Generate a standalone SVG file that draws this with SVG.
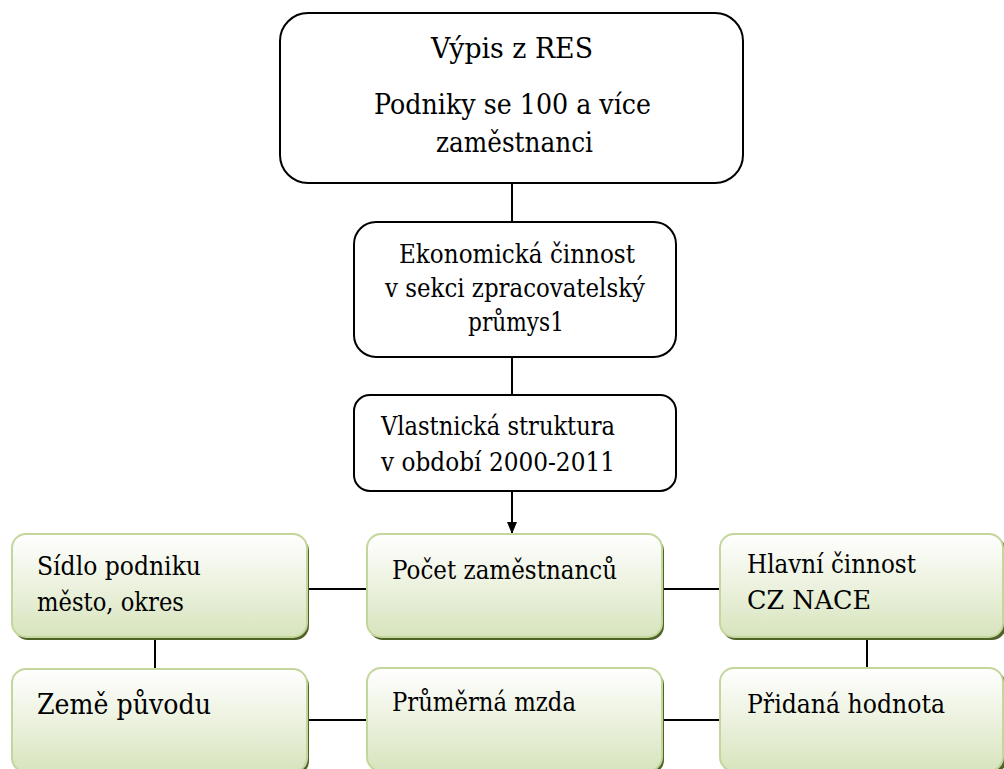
<svg xmlns="http://www.w3.org/2000/svg" width="1004" height="769" viewBox="0 0 1004 769">
  <defs>
    <linearGradient id="g" x1="0" y1="0" x2="0" y2="1">
      <stop offset="0" stop-color="#ffffff"/>
      <stop offset="0.45" stop-color="#eef3e2"/>
      <stop offset="1" stop-color="#d7e4bd"/>
    </linearGradient>
    <marker id="arr" markerWidth="10" markerHeight="12" refX="12" refY="5" orient="auto" markerUnits="userSpaceOnUse">
      <path d="M0,0 L12,5 L0,10 Z" fill="#000"/>
    </marker>
  </defs>
  <style>
    .box { fill: #ffffff; stroke: #000000; stroke-width: 2; }
    .gbox { fill: url(#g); stroke: #c3d69b; stroke-width: 2; }
    .shadow { fill: #4f6228; }
    text { font-family: "DejaVu Serif", "Liberation Serif", serif; font-size: 26px; fill: #000000; }
    .big { font-size: 27px; }
    .conn line { stroke: #000000; stroke-width: 2; }
  </style>
  <rect width="1004" height="769" fill="#ffffff"/>

  <g class="conn">
    <line x1="512" y1="183" x2="512" y2="222"/>
    <line x1="512" y1="357" x2="512" y2="395"/>
    <line x1="512" y1="491" x2="512" y2="534" marker-end="url(#arr)"/>
    <line x1="308" y1="589" x2="367" y2="589"/>
    <line x1="662" y1="589" x2="720" y2="589"/>
    <line x1="155" y1="637" x2="155" y2="669"/>
    <line x1="867" y1="637" x2="867" y2="668"/>
    <line x1="308" y1="720" x2="367" y2="720"/>
    <line x1="662" y1="720" x2="720" y2="720"/>
  </g>

  <g id="n-vypis">
    <rect class="box" x="280" y="13" width="463" height="170" rx="28"/>
    <text class="big" x="431" y="58" textLength="162" lengthAdjust="spacingAndGlyphs">Výpis z RES</text>
    <text class="big" x="374" y="114" textLength="277" lengthAdjust="spacingAndGlyphs">Podniky se 100 a více</text>
    <text class="big" x="436" y="152" textLength="157" lengthAdjust="spacingAndGlyphs">zaměstnanci</text>
  </g>

  <g id="n-ekonomicka">
    <rect class="box" x="354" y="222" width="322" height="135" rx="22"/>
    <text x="399" y="263" textLength="236" lengthAdjust="spacingAndGlyphs">Ekonomická činnost</text>
    <text x="385" y="297" textLength="260" lengthAdjust="spacingAndGlyphs">v sekci zpracovatelský</text>
    <text x="468" y="331" textLength="96" lengthAdjust="spacingAndGlyphs">průmys1</text>
  </g>

  <g id="n-vlastnicka">
    <rect class="box" x="354" y="395" width="322" height="96" rx="16"/>
    <text x="381" y="435" textLength="234" lengthAdjust="spacingAndGlyphs">Vlastnická struktura</text>
    <text x="381" y="471" textLength="234" lengthAdjust="spacingAndGlyphs">v období 2000-2011</text>
  </g>

  <g id="n-sidlo">
    <rect class="shadow" x="14" y="537" width="295" height="103" rx="14"/>
    <rect class="gbox" x="12" y="534" width="295" height="103" rx="14"/>
    <text x="37" y="575" textLength="164" lengthAdjust="spacingAndGlyphs">Sídlo podniku</text>
    <text x="37" y="611" textLength="147" lengthAdjust="spacingAndGlyphs">město, okres</text>
  </g>

  <g id="n-pocet">
    <rect class="shadow" x="369" y="537" width="295" height="103" rx="14"/>
    <rect class="gbox" x="367" y="534" width="295" height="103" rx="14"/>
    <text x="392" y="579" textLength="225" lengthAdjust="spacingAndGlyphs">Počet zaměstnanců</text>
  </g>

  <g id="n-hlavni">
    <rect class="shadow" x="722" y="537" width="284" height="103" rx="14"/>
    <rect class="gbox" x="720" y="534" width="283" height="103" rx="14"/>
    <text x="747" y="573" textLength="169" lengthAdjust="spacingAndGlyphs">Hlavní činnost</text>
    <text x="747" y="609" textLength="124" lengthAdjust="spacingAndGlyphs">CZ NACE</text>
  </g>

  <g id="n-zeme">
    <rect class="shadow" x="14" y="672" width="295" height="103" rx="14"/>
    <rect class="gbox" x="12" y="669" width="295" height="103" rx="14"/>
    <text class="big" x="37" y="714" textLength="174" lengthAdjust="spacingAndGlyphs">Země původu</text>
  </g>

  <g id="n-mzda">
    <rect class="shadow" x="369" y="671" width="295" height="103" rx="14"/>
    <rect class="gbox" x="367" y="668" width="295" height="103" rx="14"/>
    <text x="392" y="711" textLength="184" lengthAdjust="spacingAndGlyphs">Průměrná mzda</text>
  </g>

  <g id="n-pridana">
    <rect class="shadow" x="722" y="671" width="284" height="103" rx="14"/>
    <rect class="gbox" x="720" y="668" width="283" height="103" rx="14"/>
    <text x="747" y="713" textLength="198" lengthAdjust="spacingAndGlyphs">Přidaná hodnota</text>
  </g>
</svg>
